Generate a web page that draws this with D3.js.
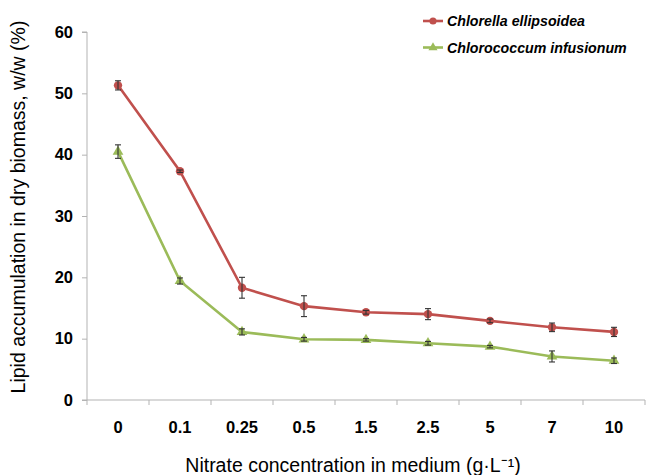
<!DOCTYPE html>
<html>
<head>
<meta charset="utf-8">
<script src="https://cdn.jsdelivr.net/npm/d3@7"></script>
<style>
  body { margin: 0; background: #fff; }
  svg { font-family: "Liberation Sans", Arial, sans-serif; }
</style>
</head>
<body>
<div id="chart"></div>
<script>
var svgWidth = 646;
var svgHeight = 475;

var margin = { top: 32, right: 1, bottom: 75, left: 87 };
var width = svgWidth - margin.left - margin.right;
var height = svgHeight - margin.top - margin.bottom;

// data
var categories = ["0", "0.1", "0.25", "0.5", "1.5", "2.5", "5", "7", "10"];
var chlorella = [51.3, 37.3, 18.3, 15.3, 14.3, 14.0, 12.9, 11.85, 11.1];
var chlorellaErr = [0.75, 0.2, 1.7, 1.7, 0.3, 0.9, 0.3, 0.7, 0.75];
var chlorococcum = [40.5, 19.4, 11.1, 9.9, 9.8, 9.25, 8.7, 7.1, 6.4];
var chlorococcumErr = [1.1, 0.5, 0.5, 0.3, 0.2, 0.3, 0.2, 0.9, 0.45];
var yTicks = [0, 10, 20, 30, 40, 50, 60];

var series = [
  { name: "Chlorella ellipsoidea", values: chlorella, err: chlorellaErr, color: "#c0504d", marker: "circle" },
  { name: "Chlorococcum infusionum", values: chlorococcum, err: chlorococcumErr, color: "#9bbb59", marker: "triangle" }
];

var svg = d3.select("#chart")
  .append("svg")
  .attr("width", svgWidth)
  .attr("height", svgHeight);

var chartGroup = svg.append("g")
  .attr("transform", `translate(${margin.left}, ${margin.top})`);

var xScale = d3.scaleBand()
  .domain(categories)
  .range([0, width]);

var yScale = d3.scaleLinear()
  .domain([0, 60])
  .range([height, 0]);

function cx(d, i) { return xScale(categories[i]) + xScale.bandwidth() / 2; }

// y axis
var leftAxis = d3.axisLeft(yScale).tickValues(yTicks).tickSize(5).tickPadding(9);
var yAxisG = chartGroup.append("g").call(leftAxis);
yAxisG.select(".domain").attr("stroke", "#b3b3b3").attr("d", `M-5,${height}H0V0H-5`);
yAxisG.selectAll(".tick line").attr("stroke", "#b3b3b3");
yAxisG.selectAll(".tick text")
  .attr("font-size", 16.5).attr("font-weight", "bold").attr("fill", "#000");

// x axis with ticks at band edges
var bottomAxis = d3.axisBottom(xScale).tickSize(0).tickPadding(21);
var xAxisG = chartGroup.append("g")
  .attr("transform", `translate(0, ${height})`)
  .call(bottomAxis);
xAxisG.select(".domain").attr("stroke", "#b3b3b3").attr("d", `M0,0H${width}`);
xAxisG.selectAll(".tick text")
  .attr("font-size", 16.5).attr("font-weight", "bold").attr("fill", "#000");
xAxisG.selectAll(".edge")
  .data(d3.range(categories.length + 1))
  .enter().append("line")
  .attr("x1", function(d) { return d * xScale.bandwidth(); })
  .attr("x2", function(d) { return d * xScale.bandwidth(); })
  .attr("y1", 0).attr("y2", 5)
  .attr("stroke", "#b3b3b3");

var line = d3.line()
  .x(cx)
  .y(function(d) { return yScale(d); });

series.forEach(function(s) {
  chartGroup.append("path")
    .datum(s.values)
    .attr("fill", "none")
    .attr("stroke", s.color)
    .attr("stroke-width", 2.6)
    .attr("d", line);

  var sym = s.marker === "circle" ? d3.symbolCircle : d3.symbolTriangle;
  chartGroup.selectAll(null)
    .data(s.values)
    .enter().append("path")
    .attr("d", d3.symbol().type(sym).size(s.marker === "circle" ? 55 : 50))
    .attr("transform", function(d, i) { return `translate(${cx(d, i)}, ${yScale(d)})`; })
    .attr("fill", s.color);

  // error bars
  var eb = chartGroup.selectAll(null)
    .data(s.values)
    .enter().append("g")
    .attr("stroke", "#333")
    .attr("stroke-width", 1.1);
  eb.append("line")
    .attr("x1", cx).attr("x2", cx)
    .attr("y1", function(d, i) { return yScale(d + s.err[i]); })
    .attr("y2", function(d, i) { return yScale(d - s.err[i]); });
  eb.append("line")
    .attr("x1", function(d, i) { return cx(d, i) - 3; })
    .attr("x2", function(d, i) { return cx(d, i) + 3; })
    .attr("y1", function(d, i) { return yScale(d + s.err[i]); })
    .attr("y2", function(d, i) { return yScale(d + s.err[i]); });
  eb.append("line")
    .attr("x1", function(d, i) { return cx(d, i) - 3; })
    .attr("x2", function(d, i) { return cx(d, i) + 3; })
    .attr("y1", function(d, i) { return yScale(d - s.err[i]); })
    .attr("y2", function(d, i) { return yScale(d - s.err[i]); });
});

// legend
var legend = svg.append("g").attr("transform", "translate(423, 21)");
series.forEach(function(s, i) {
  var g = legend.append("g").attr("transform", `translate(0, ${i * 26.5})`);
  g.append("line").attr("x1", 0).attr("x2", 20).attr("y1", 0).attr("y2", 0)
    .attr("stroke", s.color).attr("stroke-width", 2.6);
  var sym = s.marker === "circle" ? d3.symbolCircle : d3.symbolTriangle;
  g.append("path")
    .attr("d", d3.symbol().type(sym).size(s.marker === "circle" ? 40 : 36))
    .attr("transform", "translate(10, 0)")
    .attr("fill", s.color);
  g.append("text")
    .attr("x", 24).attr("y", 5)
    .attr("font-size", 14.2)
    .attr("font-weight", "bold")
    .attr("font-style", "italic")
    .attr("fill", "#000")
    .text(s.name);
});

// axis titles
chartGroup.append("text")
  .attr("transform", "rotate(-90)")
  .attr("x", -175)
  .attr("y", -margin.left + 25)
  .attr("text-anchor", "middle")
  .attr("font-size", 19.5)
  .attr("fill", "#000")
  .text("Lipid accumulation in dry biomass, w/w (%)");

chartGroup.append("text")
  .attr("x", 266)
  .attr("y", height + 72)
  .attr("text-anchor", "middle")
  .attr("font-size", 19.5)
  .attr("fill", "#000")
  .text("Nitrate concentration in medium (g\u00b7L\u207b\u00b9)");
</script>
</body>
</html>
